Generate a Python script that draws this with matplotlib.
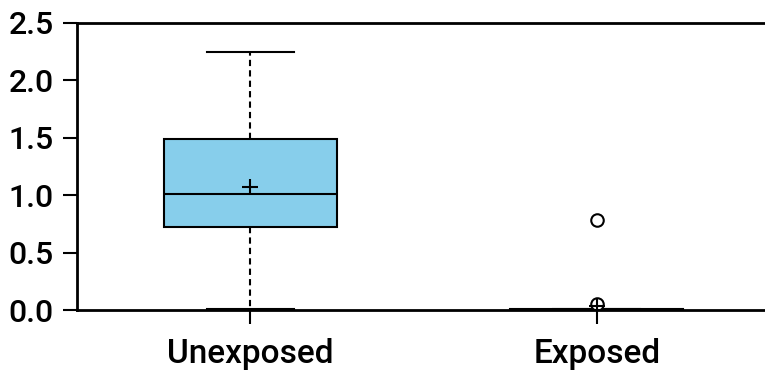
import matplotlib
matplotlib.use("Agg")
import matplotlib.pyplot as plt

# --- data ---
groups = ["Unexposed", "Exposed"]
q1 = [0.72, 0.0]
medians = [1.01, 0.0]
q3 = [1.49, 0.005]
whis_low = [0.01, 0.0]
whis_high = [2.25, 0.005]
means = [1.07, 0.035]
outliers = [[], [0.78, 0.05]]

plt.rcParams['font.family'] = ['Roboto', 'Liberation Sans', 'DejaVu Sans']
plt.rcParams['font.weight'] = 'medium'

stats = []
for i, g in enumerate(groups):
    stats.append(dict(label=g, q1=q1[i], med=medians[i], q3=q3[i],
                      whislo=whis_low[i], whishi=whis_high[i],
                      mean=means[i], fliers=outliers[i]))

fig = plt.figure(figsize=(7.65, 3.73), dpi=100)
ax = fig.add_axes([77 / 765, 63 / 373, 693 / 765, 287 / 373])

ax.bxp(stats, positions=[1, 2], widths=0.5, showmeans=True, patch_artist=True,
       boxprops=dict(facecolor='#87ceeb', edgecolor='black', linewidth=1.5),
       medianprops=dict(color='black', linewidth=1.5),
       whiskerprops=dict(color='black', linestyle=(0, (3, 2)), linewidth=1.5),
       capprops=dict(color='black', linewidth=1.5),
       capwidths=0.25,
       meanprops=dict(marker='+', markeredgecolor='black', markersize=11, markeredgewidth=1.5),
       flierprops=dict(marker='o', markerfacecolor='white', markeredgecolor='black',
                       markersize=9, markeredgewidth=1.5))

ax.set_xlim(0.5, 2.5)
ax.set_ylim(0, 2.5)
ax.set_yticks([0, 0.5, 1.0, 1.5, 2.0, 2.5])
ax.set_yticklabels(['0.0', '0.5', '1.0', '1.5', '2.0', '2.5'])
ax.set_xticks([1, 2])
ax.set_xticklabels(groups)

for s in ax.spines.values():
    s.set_linewidth(2)
ax.spines['right'].set_visible(False)
ax.tick_params(axis='both', direction='out', width=1.5, length=10)
ax.tick_params(axis='y', pad=7, labelsize=23)
ax.tick_params(axis='x', pad=10, labelsize=24)

fig.savefig("out.png", dpi=100)
